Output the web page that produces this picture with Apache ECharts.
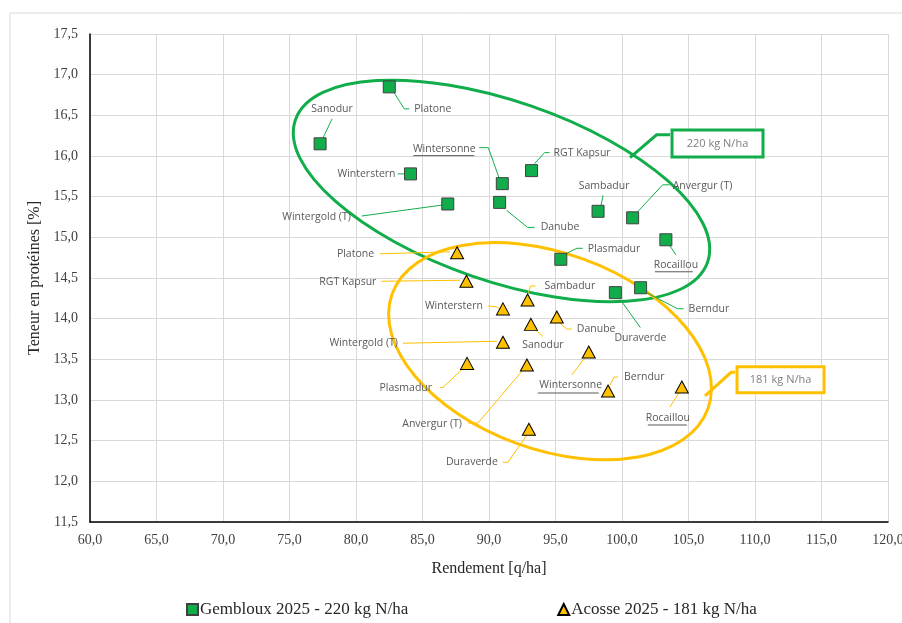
<!DOCTYPE html>
<html>
<head>
<meta charset="utf-8">
<script src="https://cdn.jsdelivr.net/npm/echarts@6/dist/echarts.min.js"></script>
<style>
  html, body { margin: 0; padding: 0; background: #fff; }
  #chart { width: 902px; height: 623px; }
</style>
</head>
<body>
<div id="chart"></div>
<script>
  // Gembloux 2025 - 220 kg N/ha
  const gemblouxNames = ['Platone', 'Sanodur', 'Winterstern', 'Wintersonne', 'RGT Kapsur', 'Wintergold (T)', 'Danube',
    'Sambadur', 'Anvergur (T)', 'Rocaillou', 'Plasmadur', 'Berndur', 'Duraverde'];
  const gemblouxYield = [82.5, 77.3, 84.1, 91.0, 93.2, 86.9, 90.8, 98.2, 100.8, 103.3, 95.4, 101.4, 99.5];
  const gemblouxProtein = [16.85, 16.15, 15.78, 15.66, 15.82, 15.41, 15.43, 15.32, 15.24, 14.97, 14.73, 14.38, 14.32];

  // Acosse 2025 - 181 kg N/ha
  const acosseNames = ['Platone', 'RGT Kapsur', 'Sambadur', 'Winterstern', 'Danube', 'Sanodur', 'Wintergold (T)',
    'Wintersonne', 'Plasmadur', 'Anvergur (T)', 'Berndur', 'Rocaillou', 'Duraverde'];
  const acosseYield = [87.6, 88.3, 92.9, 91.05, 95.1, 93.15, 91.05, 97.5, 88.35, 92.85, 98.95, 104.5, 93.0];
  const acosseProtein = [14.81, 14.46, 14.23, 14.12, 14.02, 13.93, 13.71, 13.59, 13.45, 13.43, 13.11, 13.16, 12.64];

  const meanYield = 92.9;
  const proteinThreshold = 13.5;

  // label placement (pixel offsets from the marker)
  const gemblouxLabels = [
    { t: [25, 22], a: 'left', line: [[5, 6], [15, 22], [20, 22]] },
    { t: [12, -35], a: 'center', line: [[3, -6], [12, -25]] },
    { t: [-15, 0], a: 'right', line: [[-6, 0], [-13, 0]] },
    { t: [-58, -35], a: 'center', line: [[-23, -36], [-14, -36], [-3, -5]], u: [-89, -28, -28] },
    { t: [22, -18], a: 'left', line: [[3, -7], [13, -18], [18, -18]] },
    { t: [-97, 13], a: 'right', line: [[-86, 12], [-5, 1]] },
    { t: [41, 25], a: 'left', line: [[7, 8], [28, 25], [35, 25]] },
    { t: [6, -25], a: 'center', line: [[3, -6], [5, -16]] },
    { t: [40, -32], a: 'left', line: [[5, -6], [30, -33], [37, -33]] },
    { t: [10, 25], a: 'center', line: [[4, 6], [10, 15]], u: [-11, 27, 32] },
    { t: [27, -10], a: 'left', line: [[6, -6], [16, -11], [22, -11]] },
    { t: [48, 21], a: 'left', line: [[6, 5], [37, 21], [43, 21]] },
    { t: [25, 45], a: 'center', line: [[5, 7], [25, 35]] },
  ];
  const acosseLabels = [
    { t: [-83, 1], a: 'right', line: [[-77, 1], [-7, -1]] },
    { t: [-90, 1], a: 'right', line: [[-85, 0], [-6, -1]] },
    { t: [17, -14], a: 'left', line: [[1, -7], [3, -14], [8, -14]] },
    { t: [-20, -3], a: 'right', line: [[-15, -3], [-6, -2], [-3, 0]] },
    { t: [20, 12], a: 'left', line: [[3, 6], [10, 12], [15, 12]] },
    { t: [12, 21], a: 'center', line: [[4, 5], [12, 12]] },
    { t: [-105, 1], a: 'right', line: [[-100, 1], [-6, -1]] },
    { t: [-18, 33], a: 'center', line: [[-4, 6], [-17, 23]], u: [-51, 10, 41] },
    { t: [-35, 25], a: 'right', line: [[-4, 5], [-24, 24], [-27, 24]] },
    { t: [-65, 59], a: 'right', line: [[-4, 5], [-49, 58], [-59, 58]] },
    { t: [16, -14], a: 'left', line: [[2, -6], [6, -14], [10, -14]] },
    { t: [-14, 31], a: 'center', line: [[-3, 6], [-12, 20]], u: [-34, 5, 38] },
    { t: [-31, 33], a: 'right', line: [[-2, 6], [-21, 33], [-26, 33]] },
  ];

  const GREEN = '#12ad4b';
  const YELLOW = '#ffc000';
  const LABEL_COLOR = '#595959';
  const fmt = v => v.toFixed(1).replace('.', ',');

  function labelRenderer(names, layout, color) {
    return function (params, api) {
      const p = api.coord([api.value(0), api.value(1)]);
      const lay = layout[params.dataIndex];
      const children = [{
        type: 'polyline',
        shape: { points: lay.line.map(o => [p[0] + o[0], p[1] + o[1]]) },
        style: { stroke: color, lineWidth: 1, fill: null },
      }];
      if (lay.u) {
        children.push({
          type: 'line',
          shape: { x1: p[0] + lay.u[0], y1: p[1] + lay.u[2], x2: p[0] + lay.u[1], y2: p[1] + lay.u[2] },
          style: { stroke: LABEL_COLOR, lineWidth: 1 },
        });
      }
      children.push({
        type: 'text',
        style: {
          text: names[params.dataIndex],
          x: p[0] + lay.t[0],
          y: p[1] + lay.t[1],
          align: lay.a,
          verticalAlign: 'middle',
          fill: LABEL_COLOR,
          font: '10.5px "Open Sans", sans-serif',
        },
      });
      return { type: 'group', children: children };
    };
  }

  const chart = echarts.init(document.getElementById('chart'));

  const option = {
    animation: false,
    backgroundColor: '#fff',
    textStyle: { fontFamily: '"Liberation Serif", "Times New Roman", serif' },
    grid: { left: 90, right: 14, top: 34, bottom: 101, outerBoundsMode: 'none' },
    legend: {
      data: ['Gembloux 2025 - 220 kg N/ha', 'Acosse 2025 - 181 kg N/ha'],
      left: 181,
      top: 596,
      itemWidth: 11,
      itemHeight: 11,
      itemGap: 149,
      textStyle: { fontSize: 17, color: '#262626', fontFamily: '"Liberation Serif", serif', padding: [0, 0, 0, -3] },
    },
    xAxis: {
      type: 'value',
      min: 60,
      max: 120,
      interval: 5,
      name: 'Rendement [q/ha]',
      nameLocation: 'middle',
      nameGap: 39,
      nameTextStyle: { fontSize: 16, color: '#262626' },
      axisLine: { show: true, lineStyle: { color: '#000', width: 1.5 } },
      axisTick: { show: false },
      axisLabel: { formatter: fmt, fontSize: 14, color: '#404040', margin: 11 },
      splitLine: { show: true, lineStyle: { color: '#d9d9d9', width: 1 } },
    },
    yAxis: {
      type: 'value',
      min: 11.5,
      max: 17.5,
      interval: 0.5,
      name: 'Teneur en protéines [%]',
      nameLocation: 'middle',
      nameGap: 40,
      nameTextStyle: { fontSize: 16, color: '#262626' },
      axisLine: { show: true, lineStyle: { color: '#000', width: 1.5 } },
      axisTick: { show: false },
      axisLabel: { formatter: fmt, fontSize: 14, color: '#404040', margin: 12 },
      splitLine: { show: true, lineStyle: { color: '#d9d9d9', width: 1 } },
    },
    series: [
      {
        name: 'Gembloux labels',
        type: 'custom',
        silent: true,
        clip: false,
        z: 3,
        renderItem: labelRenderer(gemblouxNames, gemblouxLabels, GREEN),
        data: gemblouxYield.map((x, i) => [x, gemblouxProtein[i]]),
      },
      {
        name: 'Acosse labels',
        type: 'custom',
        silent: true,
        clip: false,
        z: 3,
        renderItem: labelRenderer(acosseNames, acosseLabels, YELLOW),
        data: acosseYield.map((x, i) => [x, acosseProtein[i]]),
      },
      {
        name: 'Gembloux 2025 - 220 kg N/ha',
        type: 'scatter',
        symbol: 'rect',
        symbolSize: 12,
        z: 5,
        itemStyle: { color: GREEN, borderColor: '#404040', borderWidth: 1, opacity: 1 },
        data: gemblouxYield.map((x, i) => [x, gemblouxProtein[i]]),
        markLine: {
          silent: true,
          symbol: 'none',
          label: { show: false },
          lineStyle: { color: '#000', type: [4, 3], width: 1.2 },
          data: [
            [{ coord: [meanYield, 11.4] }, { coord: [meanYield, 17.47] }],
            [{ coord: [59.6, proteinThreshold] }, { coord: [120, proteinThreshold] }],
          ],
        },
      },
      {
        name: 'Acosse 2025 - 181 kg N/ha',
        type: 'scatter',
        symbol: 'triangle',
        symbolSize: [13, 12],
        z: 5,
        itemStyle: { color: YELLOW, borderColor: '#000', borderWidth: 1, opacity: 1 },
        data: acosseYield.map((x, i) => [x, acosseProtein[i]]),
      },
    ],
  };

  chart.setOption(option);

  // ellipses and callout boxes, anchored on data coordinates
  const toPx = pt => chart.convertToPixel({ gridIndex: 0 }, pt);

  function ellipse(center, rx, ry, deg, color) {
    const c = toPx(center);
    return {
      type: 'ellipse',
      x: c[0],
      y: c[1],
      rotation: -deg * Math.PI / 180,
      shape: { cx: 0, cy: 0, rx: rx, ry: ry },
      style: { fill: null, stroke: color, lineWidth: 3 },
      z: 1,
      silent: true,
    };
  }

  function callout(from, elbow, boxAt, w, h, text, color) {
    const a = toPx(from);
    const b = toPx(elbow);
    const r = toPx(boxAt);
    return [
      {
        type: 'polyline',
        shape: { points: [a, b, [r[0] - 2, b[1]]] },
        style: { stroke: color, lineWidth: 3, fill: null },
        z: 1,
        silent: true,
      },
      {
        type: 'rect',
        shape: { x: r[0], y: r[1], width: w, height: h },
        style: { fill: '#fff', stroke: color, lineWidth: 3 },
        z: 1,
        silent: true,
      },
      {
        type: 'text',
        style: {
          text: text,
          x: r[0] + w / 2,
          y: r[1] + h / 2,
          align: 'center',
          verticalAlign: 'middle',
          fill: '#7f7f7f',
          font: '11px "Open Sans", sans-serif',
        },
        z: 2,
        silent: true,
      },
    ];
  }

  chart.setOption({
    graphic: [
      {
        type: 'rect',
        shape: { x: 10, y: 13, width: 900, height: 620 },
        style: { fill: null, stroke: '#d9d9d9', lineWidth: 1 },
        z: 0,
        silent: true,
      },
      ellipse([90.94, 15.57], 218, 90, 19, GREEN),
      ellipse([94.59, 13.60], 168, 98, 20, YELLOW),
    ]
      .concat(callout([100.6, 15.98], [102.6, 16.26], [103.76, 16.32], 91, 27, '220 kg N/ha', GREEN))
      .concat(callout([106.24, 13.05], [108.2, 13.34], [108.65, 13.41], 87, 26, '181 kg N/ha', YELLOW)),
  });
</script>
</body>
</html>
